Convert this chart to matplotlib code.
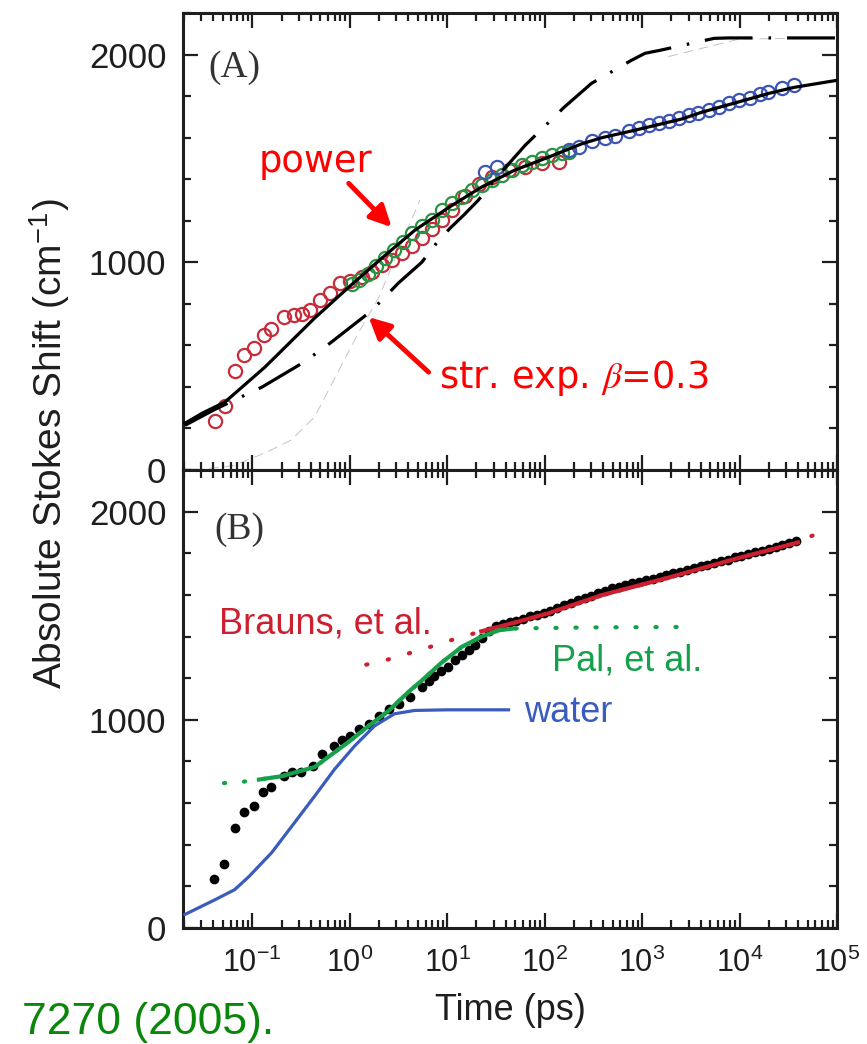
import numpy as np
import matplotlib
matplotlib.use("Agg")
import matplotlib.pyplot as plt
from matplotlib.ticker import LogLocator, MultipleLocator, NullFormatter

plt.rcParams['font.family'] = ['Liberation Sans', 'DejaVu Sans']
plt.rcParams['mathtext.fontset'] = 'stix'

# ---------------- panel A (times stored as log10 of ps) ----------------
power_logt = [-1.69, -1.51, -1.28, -0.87, -0.36, -0.01, 0.33, 0.67, 1.02, 1.35, 1.69,
              2.04, 2.38, 2.59, 2.92, 3.41, 3.61, 4.09, 4.30, 4.56, 5.0]
power_val = [225, 274, 327, 495, 731, 880, 1020, 1155, 1265, 1361, 1443,
             1506, 1570, 1600, 1635, 1690, 1722, 1785, 1813, 1842, 1876]

strexp_logt = [-1.69, -1.39, -1.18, -0.90, -0.47, -0.20, 0.22, 0.36, 0.50, 0.74, 0.89,
               1.03, 1.17, 1.32, 1.53, 1.80, 2.20, 2.48, 2.89, 3.03, 3.18, 3.74, 3.89, 5.0]
strexp_val = [215, 290, 337, 399, 519, 611, 765, 832, 900, 1000, 1092,
              1164, 1227, 1299, 1420, 1563, 1746, 1861, 1972, 2006, 2020, 2078, 2080, 2080]

faint_logt = [-1.6, -1.2, -0.87, -0.6, -0.36, 0.09, 0.30, 0.72, np.nan, 3.27, 4.0, 5.0]
faint_val = [0, 20, 82, 144, 255, 660, 832, 1299, np.nan, 1990, 2075, 2080]

red_logt = [-1.385, -1.282, -1.179, -1.087, -0.985, -0.882, -0.810, -0.677, -0.574, -0.49,
            -0.41, -0.308, -0.205, -0.103, 0.0, 0.123, 0.226, 0.328, 0.431, 0.533,
            0.636, 0.738, 0.841, 0.944, 1.046, 1.18, 1.323, 1.456, 1.631, 1.795, 1.969, 2.144]
red_val = [236, 308, 476, 553, 587, 649, 678, 736, 746, 750,
           770, 818, 851, 899, 910, 928, 952, 986, 1010, 1044,
           1080, 1115, 1160, 1205, 1250, 1320, 1375, 1409, 1443, 1457, 1476, 1481]

green_logt = [0.02, 0.10, 0.185, 0.267, 0.36, 0.45, 0.544, 0.636, 0.738, 0.841, 0.944, 1.046,
              1.149, 1.251, 1.354, 1.456, 1.559, 1.662, 1.764, 1.867, 1.969, 2.072, 2.174, 2.246]
green_val = [895, 915, 945, 980, 1020, 1060, 1100, 1140, 1175, 1205, 1250, 1284,
             1313, 1347, 1371, 1395, 1419, 1443, 1467, 1481, 1500, 1515, 1525, 1532]

blue_logt = [1.385, 1.508, 2.246, 2.349, 2.482, 2.615, 2.718, 2.862, 2.964, 3.067, 3.169, 3.272,
             3.374, 3.477, 3.579, 3.682, 3.785, 3.887, 3.990, 4.103, 4.205, 4.297, 4.431, 4.554]
blue_val = [1433, 1457, 1540, 1555, 1585, 1600, 1610, 1630, 1648, 1660, 1670, 1678,
            1693, 1708, 1718, 1735, 1748, 1765, 1780, 1792, 1808, 1818, 1837, 1852]

# ---------------- panel B ----------------
data_logt = [-1.395, -1.292, -1.179, -1.087, -0.985, -0.892, -0.810, -0.677, -0.595, -0.503,
             -0.379, -0.287, -0.164, -0.082, 0.0, 0.092, 0.195, 0.297, 0.40, 0.503, 0.615,
             0.74, 0.81, 0.87, 0.94, 1.01, 1.08, 1.15, 1.22, 1.29, 1.36, 1.43, 1.50,
             1.57, 1.64, 1.71, 1.78, 1.85, 1.92, 1.99, 2.06, 2.13, 2.20, 2.27, 2.34, 2.41,
             2.48, 2.55, 2.62, 2.69, 2.76, 2.83, 2.90, 2.97, 3.04, 3.11, 3.18, 3.25, 3.32,
             3.39, 3.46, 3.53, 3.60, 3.67, 3.74, 3.81, 3.88, 3.95, 4.02, 4.09, 4.16, 4.23,
             4.30, 4.37, 4.44, 4.51, 4.58]
data_val = [237, 309, 478, 555, 585, 652, 676, 729, 749, 749,
            778, 836, 874, 903, 922, 956, 980, 1019, 1053, 1077, 1111,
            1160, 1185, 1210, 1235, 1256, 1285, 1309, 1335, 1357, 1395, 1425, 1449,
            1458, 1468, 1476, 1485, 1497, 1505, 1515, 1525, 1538, 1550, 1562, 1575, 1586,
            1596, 1608, 1620, 1632, 1640, 1648, 1655, 1663, 1670, 1678, 1686, 1695, 1703,
            1712, 1720, 1730, 1738, 1746, 1755, 1762, 1770, 1780, 1787, 1796, 1805, 1813,
            1822, 1830, 1840, 1850, 1860]

brauns_logt = [0.17, 0.36, 0.53, 0.71, 0.87, 1.03, 1.20, 1.35, 1.70, 2.04, 2.58, 3.27, 3.95, 4.60, 4.72, 4.89]
brauns_val = [1265, 1285, 1309, 1333, 1357, 1381, 1405, 1425, 1468, 1512, 1598, 1683, 1772, 1852, 1880, 1908]

pal_logt = [-1.29, -1.13, -0.985, -0.93, -0.70, -0.36, -0.01, 0.195, 0.40, 0.605, 0.738,
            0.944, 1.149, 1.354, 1.528, 1.69, 2.5, 3.44]
pal_val = [696, 700, 710, 713, 729, 773, 894, 971, 1043, 1135, 1188,
           1275, 1350, 1400, 1430, 1439, 1444, 1446]

water_logt = [-1.69, -1.385, -1.18, -1.036, -0.8, -0.595, -0.36, -0.154, 0.05, 0.256, 0.46, 0.667, 1.0, 1.63]
water_val = [65, 135, 184, 246, 362, 488, 633, 763, 874, 971, 1029, 1045, 1048, 1048]


def tt(logs):
    return 10 ** np.asarray(logs, dtype=float)


fig = plt.figure(figsize=(8.67, 10.44), dpi=100)
L, W = 183 / 867, 654 / 867
axA = fig.add_axes([L, 1 - 470 / 1044, W, 457 / 1044])
axB = fig.add_axes([L, 1 - 928 / 1044, W, 458 / 1044])

ink = '#1e1e1e'

# panel A
axA.plot(tt(red_logt), red_val, 'o', mfc='none', mec='#c62d3a', ms=9.5, mew=1.6, zorder=2)
axA.plot(tt(green_logt), green_val, 'o', mfc='none', mec='#2b9444', ms=9.5, mew=1.6, zorder=2)
axA.plot(tt(blue_logt), blue_val, 'o', mfc='none', mec='#3f55b5', ms=9.5, mew=1.6, zorder=2)
axA.plot(tt(faint_logt), faint_val, color='#c4c4c4', lw=0.7, ls=(0, (10, 6)), zorder=1)
axA.plot(tt(strexp_logt), strexp_val, color='black', lw=2.3, ls=(0, (15, 5, 0.8, 5)), zorder=3)
axA.plot(tt(power_logt), power_val, color='black', lw=2.3, zorder=3)

axA.text(10 ** -1.446, 1938, '(A)', family='Liberation Serif', fontsize=27, color='#333333',
         ha='left', va='center')
axA.annotate('', xy=(10 ** 0.43, 1169), xytext=(10 ** -0.01, 1380),
             arrowprops=dict(arrowstyle='-|>', color='red', lw=3.5, mutation_scale=32,
                             shrinkA=0, shrinkB=0))
axA.text(10 ** -0.933, 1433, 'power', family='DejaVu Sans', fontsize=26.5, color='red',
         ha='left', va='baseline')
axA.annotate('', xy=(10 ** 0.195, 736), xytext=(10 ** 0.81, 471),
             arrowprops=dict(arrowstyle='-|>', color='red', lw=3.5, mutation_scale=32,
                             shrinkA=0, shrinkB=0))
axA.text(10 ** 0.913, 394, r'str. exp. $\beta$=0.3', family='DejaVu Sans', fontsize=26.5,
         color='red', ha='left', va='baseline')

# panel B
axB.plot(tt(data_logt), data_val, 'o', color='black', ms=7, mew=0, zorder=2)
axB.plot(tt(water_logt), water_val, color='#3a5cbf', lw=2.3, zorder=3)
axB.plot(tt(pal_logt), pal_val, color='#17a04a', lw=3, ls=(0, (0.3, 4.5)),
         dash_capstyle='round', zorder=3)
axB.plot(tt(pal_logt[3:16]), pal_val[3:16], color='#17a04a', lw=3, zorder=4)
axB.plot(tt(brauns_logt), brauns_val, color='#cc2030', lw=3, ls=(0, (0.3, 5)),
         dash_capstyle='round', zorder=3)
axB.plot(tt(brauns_logt[7:14]), brauns_val[7:14], color='#cc2030', lw=3, zorder=3)

axB.text(10 ** -1.385, 1913, '(B)', family='Liberation Serif', fontsize=27, color='#333333',
         ha='left', va='center')
axB.text(10 ** -1.344, 1415, 'Brauns, et al.', fontsize=26, color='#cc2030', ha='left', va='baseline')
axB.text(10 ** 2.072, 1236, 'Pal, et al.', fontsize=26, color='#17a04a', ha='left', va='baseline')
axB.text(10 ** 1.785, 990, 'water', fontsize=26, color='#3a5cbf', ha='left', va='baseline')

for ax in (axA, axB):
    ax.set_xscale('log')
    ax.set_xlim(0.0195, 1e5)
    ax.set_ylim(0, 2200)
    ax.xaxis.set_major_locator(LogLocator(base=10, numticks=20))
    ax.xaxis.set_minor_locator(LogLocator(base=10, subs=np.arange(2, 10), numticks=20))
    ax.xaxis.set_minor_formatter(NullFormatter())
    ax.yaxis.set_major_locator(MultipleLocator(1000))
    ax.yaxis.set_minor_locator(MultipleLocator(200))
    ax.tick_params(which='both', direction='in', top=True, right=True, colors=ink, width=1.6)
    ax.tick_params(which='major', length=11)
    ax.tick_params(which='minor', length=6)
    ax.tick_params(axis='y', labelsize=25, pad=12)
    ax.tick_params(axis='x', labelsize=22, pad=14)
    for s in ax.spines.values():
        s.set_linewidth(2.2)
        s.set_color(ink)

axA.tick_params(axis='x', labelbottom=False)

axB.set_xlabel('Time (ps)', fontsize=26, color=ink, labelpad=10)
fig.text(50 / 867, 1 - 444 / 1044, 'Absolute Stokes Shift (cm$^{\\mathdefault{-1}}$)', rotation=90,
         fontsize=28, color=ink, ha='center', va='center')
fig.text(22 / 867, 1 - 1034 / 1044, '7270 (2005).', fontsize=32, color='#0a870a',
         ha='left', va='baseline')

fig.savefig('out.png', dpi=100)
